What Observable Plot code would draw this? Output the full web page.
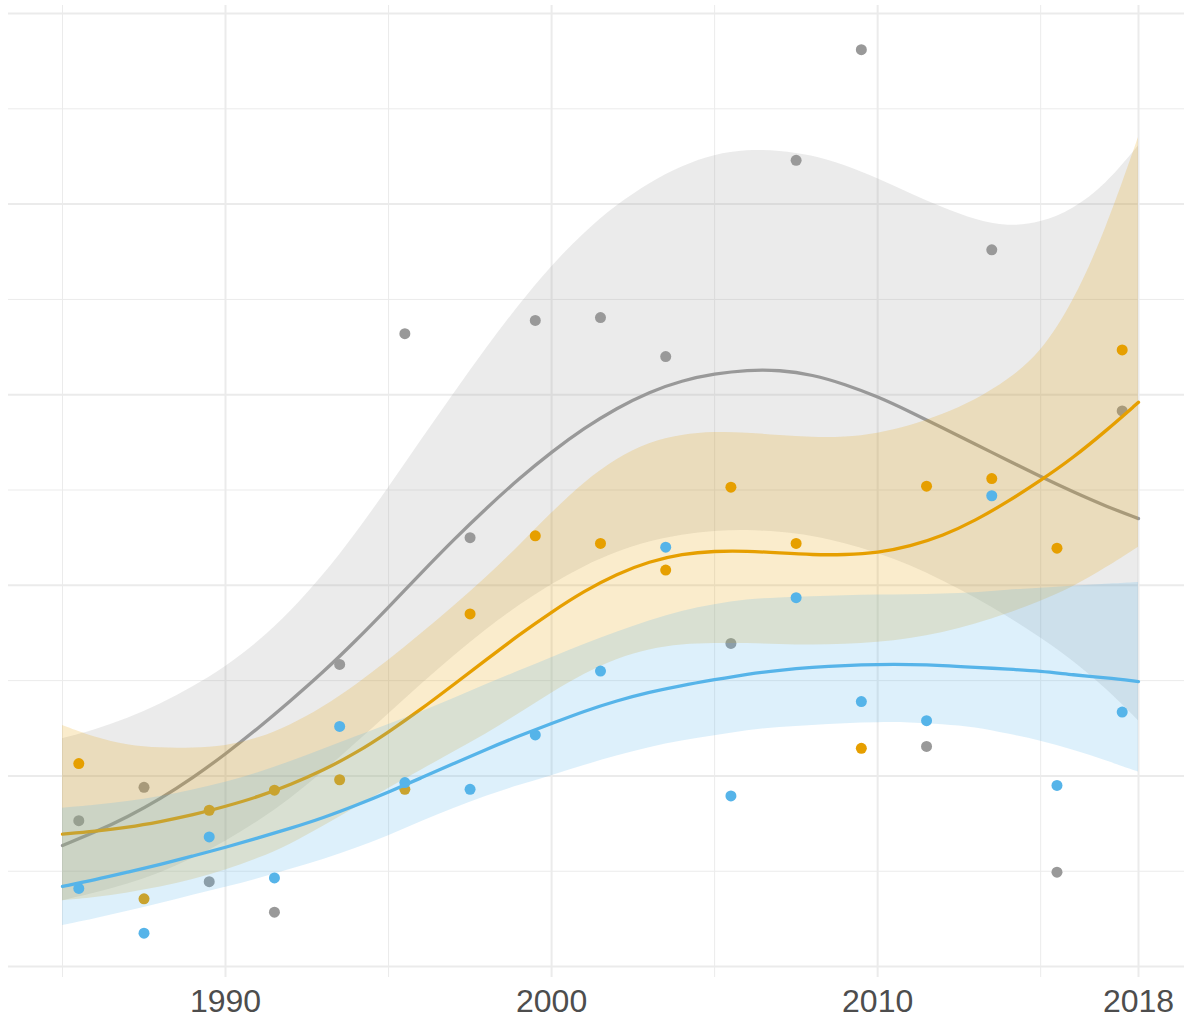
<!DOCTYPE html>
<html>
<head>
<meta charset="utf-8">
<script src="https://cdn.jsdelivr.net/npm/d3@7"></script>
<script src="https://cdn.jsdelivr.net/npm/@observablehq/plot@0.6"></script>
<style>
  html, body { margin: 0; padding: 0; background: #ffffff; }
  #chart { width: 1184px; height: 1019px; }
</style>
</head>
<body>
<div id="chart"></div>
<script>
// ---- observed points (one every two years) ----
const pointYears = [1985.5, 1987.5, 1989.5, 1991.5, 1993.5, 1995.5, 1997.5, 1999.5, 2001.5, 2003.5, 2005.5, 2007.5, 2009.5, 2011.5, 2013.5, 2015.5, 2017.5];
const grayPoints   = [15.3, 18.8, 8.9, 5.7, 31.7, 66.4, 45.0, 67.8, 68.1, 64.0, 33.9, 84.6, 96.2, 23.1, 75.2, 9.9, 58.3];
const orangePoints = [21.3, 7.1, 16.4, 18.5, 19.6, 18.6, 37.0, 45.2, 44.4, 41.6, 50.3, 44.4, 22.9, 50.4, 51.2, 43.9, 64.7];
const bluePoints   = [8.2, 3.5, 13.6, 9.3, 25.2, 19.3, 18.6, 24.3, 31.0, 44.0, 17.9, 38.7, 27.8, 25.8, 49.4, 19.0, 26.7];

const fitYears = [1985, 1986, 1987, 1988, 1989, 1990, 1991, 1992, 1993, 1994, 1995, 1996, 1997, 1998, 1999, 2000, 2001, 2002, 2003, 2004, 2005, 2006, 2007, 2008, 2009, 2010, 2011, 2012, 2013, 2014, 2015, 2016, 2017, 2018];

const grayFit = [12.7, 14.1, 15.7, 17.6, 19.8, 22.3, 25.0, 27.9, 30.9, 34.2, 37.7, 41.3, 44.8, 48.1, 51.2, 54.0, 56.5, 58.6, 60.3, 61.5, 62.2, 62.6, 62.6, 62.1, 61.1, 59.8, 58.2, 56.5, 54.8, 53.1, 51.4, 49.8, 48.3, 47.0];
const grayHigh = [23.9, 24.8, 26.0, 27.5, 29.3, 31.4, 34.0, 37.2, 41.0, 45.4, 50.2, 55.2, 60.1, 64.9, 69.4, 73.5, 77.0, 79.9, 82.2, 84.0, 85.2, 85.7, 85.6, 85.1, 84.1, 82.7, 81.1, 79.6, 78.3, 77.6, 78.0, 79.4, 82.0, 86.1];
const grayLow = [6.9, 7.7, 8.6, 9.8, 11.3, 13.1, 15.2, 17.6, 20.4, 23.4, 26.5, 29.6, 32.6, 35.4, 37.9, 40.1, 42.0, 43.5, 44.6, 45.3, 45.7, 45.8, 45.6, 45.2, 44.4, 43.4, 42.1, 40.5, 38.7, 36.7, 34.5, 32.1, 29.2, 25.8];

const orangeFit = [13.9, 14.2, 14.6, 15.2, 15.9, 16.8, 17.8, 19.1, 20.6, 22.4, 24.6, 27.0, 29.6, 32.2, 34.8, 37.2, 39.4, 41.2, 42.5, 43.3, 43.6, 43.6, 43.4, 43.2, 43.2, 43.4, 44.1, 45.2, 46.8, 48.8, 51.0, 53.4, 56.2, 59.2];
const orangeHigh = [25.3, 24.0, 23.2, 22.9, 22.9, 23.1, 23.9, 25.3, 27.2, 29.5, 32.1, 34.9, 37.8, 40.8, 44.1, 47.6, 50.8, 53.3, 55.0, 55.8, 56.1, 56.0, 55.7, 55.5, 55.5, 55.9, 56.7, 57.9, 59.4, 61.5, 64.3, 69.6, 77.2, 87.0];
const orangeLow = [6.9, 7.2, 7.7, 8.3, 9.1, 10.1, 11.3, 12.8, 14.7, 16.7, 18.7, 20.6, 22.5, 24.4, 26.5, 28.7, 30.7, 32.3, 33.3, 33.8, 33.9, 33.9, 33.8, 33.7, 33.8, 34.0, 34.4, 35.0, 35.9, 37.0, 38.3, 39.8, 41.8, 44.0];

const blueFit = [8.4, 9.1, 9.9, 10.7, 11.6, 12.5, 13.5, 14.5, 15.6, 16.9, 18.3, 19.8, 21.3, 22.8, 24.2, 25.5, 26.8, 27.9, 28.8, 29.5, 30.1, 30.7, 31.1, 31.4, 31.6, 31.7, 31.7, 31.6, 31.4, 31.2, 31.0, 30.6, 30.3, 29.9];
const blueHigh = [16.6, 16.9, 17.3, 17.8, 18.5, 19.3, 20.3, 21.5, 22.8, 24.1, 25.4, 26.7, 28.1, 29.6, 31.0, 32.4, 33.8, 35.1, 36.3, 37.3, 38.0, 38.5, 38.7, 38.8, 38.9, 39.0, 39.0, 39.1, 39.2, 39.5, 39.7, 39.9, 40.1, 40.3];
const blueLow = [4.3, 5.0, 5.8, 6.6, 7.5, 8.3, 9.2, 10.2, 11.2, 12.4, 13.7, 15.2, 16.6, 17.9, 19.0, 20.0, 21.1, 22.1, 23.0, 23.7, 24.2, 24.8, 25.1, 25.3, 25.5, 25.6, 25.6, 25.4, 25.1, 24.4, 23.7, 22.7, 21.6, 20.4];

// ---- axis / grid breaks ----
const xTickLabels = [1990, 2000, 2010, 2018];
const xMinorBreaks = [1985, 1995, 2005, 2015];
const yMajorBreaks = [0, 20, 40, 60, 80, 100];
const yMinorBreaks = [10, 30, 50, 70, 90];

const colors = { gray: "#999999", orange: "#E69F00", blue: "#56B4E9" };

// ---- tables built from the arrays ----
const pointsTable = (vals) => pointYears.map((yr, i) => ({ year: yr, value: vals[i] }));
const fitTable = (fit, lo, hi) => fitYears.map((yr, i) => ({ year: yr, fit: fit[i], lo: lo[i], hi: hi[i] }));

const series = [
  { color: colors.gray,   points: pointsTable(grayPoints),   fit: fitTable(grayFit, grayLow, grayHigh) },
  { color: colors.orange, points: pointsTable(orangePoints), fit: fitTable(orangeFit, orangeLow, orangeHigh) },
  { color: colors.blue,   points: pointsTable(bluePoints),   fit: fitTable(blueFit, blueLow, blueHigh) }
];

const gridColor = "#ebebeb";
const marks = [
  Plot.gridY(yMinorBreaks, { stroke: gridColor, strokeOpacity: 1, strokeWidth: 1 }),
  Plot.gridX(xMinorBreaks, { stroke: gridColor, strokeOpacity: 1, strokeWidth: 1 }),
  Plot.gridY(yMajorBreaks, { stroke: gridColor, strokeOpacity: 1, strokeWidth: 2 }),
  Plot.gridX(xTickLabels, { stroke: gridColor, strokeOpacity: 1, strokeWidth: 2 })
];
for (const s of series) {
  marks.push(Plot.dot(s.points, { x: "year", y: "value", r: 5.5, fill: s.color, stroke: "none" }));
  marks.push(Plot.areaY(s.fit, { x: "year", y1: "lo", y2: "hi", fill: s.color, fillOpacity: 0.2, curve: "basis" }));
  marks.push(Plot.line(s.fit, { x: "year", y: "fit", stroke: s.color, strokeWidth: 3.3, curve: "basis" }));
}
marks.push(Plot.axisX(xTickLabels, {
  tickSize: 0, tickPadding: 12, tickFormat: d => String(d),
  fontSize: 32, fill: "#4d4d4d", label: null
}));

const chart = Plot.plot({
  width: 1184,
  height: 1019,
  marginTop: 5,
  marginBottom: 42,
  marginLeft: 8,
  marginRight: 0,
  style: { background: "#ffffff", fontFamily: "'Liberation Sans', Arial, Helvetica, sans-serif", color: "#4d4d4d" },
  x: { domain: [1983.344, 2019.411], axis: null },
  y: { domain: [-1.15, 100.84], axis: null },
  marks
});
document.getElementById("chart").appendChild(chart);
</script>
</body>
</html>
